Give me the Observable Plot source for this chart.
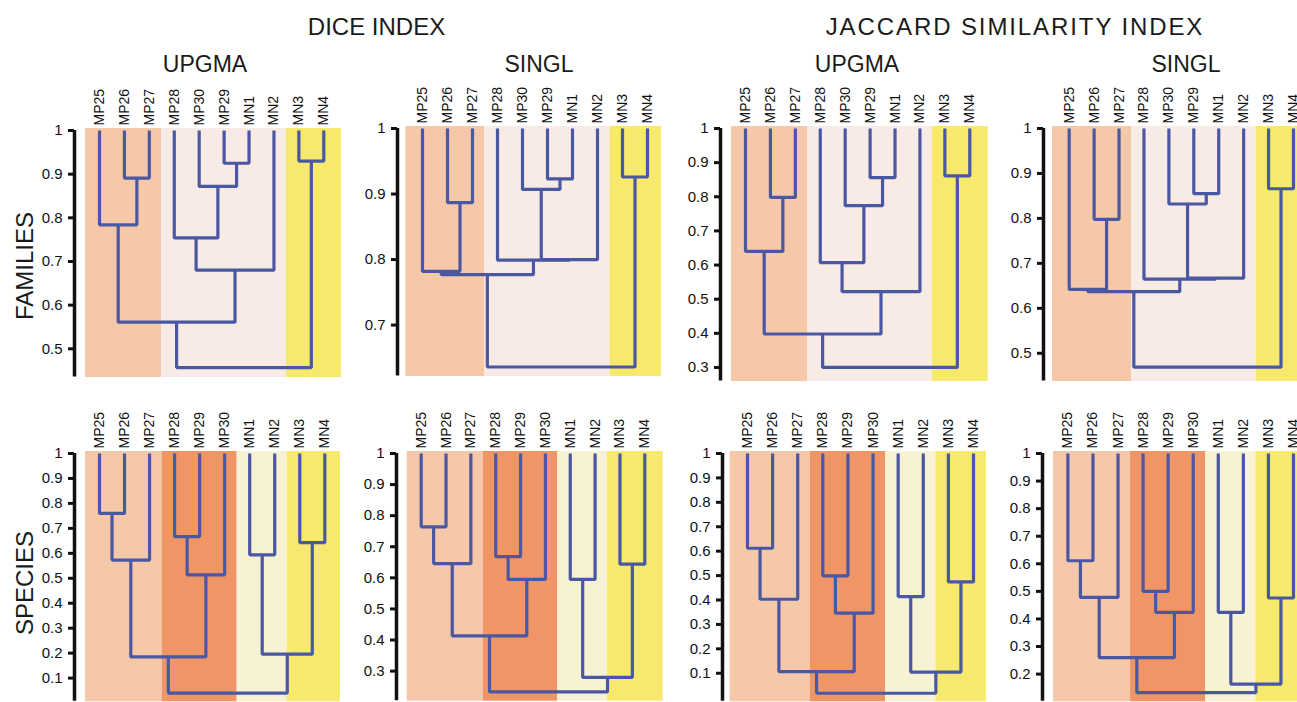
<!DOCTYPE html>
<html><head><meta charset="utf-8">
<script src="https://cdn.jsdelivr.net/npm/d3@7"></script>
<script src="https://cdn.jsdelivr.net/npm/@observablehq/plot@0.6"></script>
<style>
body{margin:0;background:#fff;font-family:"Liberation Sans",Arial,sans-serif;}
#root{position:relative;width:1297px;height:702px;overflow:hidden;background:#fff;}
.t{position:absolute;color:#1a1a1a;white-space:nowrap;transform:translate(-50%,-50%);font-size:23px;line-height:1;}
.r{transform:translate(-50%,-50%) rotate(-90deg);font-size:24px;}
.big{font-size:24px;}
.wide{font-size:24px;letter-spacing:1.9px;}
.panel{position:absolute;}
</style></head><body><div id="root"></div>
<script>
// ---------- data ----------
const leavesFamilies = ["MP25","MP26","MP27","MP28","MP30","MP29","MN1","MN2","MN3","MN4"];
const leavesSpecies  = ["MP25","MP26","MP27","MP28","MP29","MP30","MN1","MN2","MN3","MN4"];

// merges: [childA, childB, height]; numbers refer to earlier merges
const diceUpgmaFamilies = [
  ["MP26","MP27",0.891],["MP25",0,0.784],["MP29","MN1",0.925],["MP30",2,0.872],
  ["MP28",3,0.754],[4,"MN2",0.680],[1,5,0.561],["MN3","MN4",0.930],[6,7,0.457]];
const diceSinglFamilies = [
  ["MP26","MP27",0.887],["MP25",0,0.782],["MP29","MN1",0.923],["MP30",2,0.907],
  [3,"MN2",0.800],["MP28",4,0.799],[1,5,0.777],["MN3","MN4",0.926],[6,7,0.636]];
const jaccardUpgmaFamilies = [
  ["MP26","MP27",0.798],["MP25",0,0.640],["MP29","MN1",0.856],["MP30",2,0.774],
  ["MP28",3,0.607],[4,"MN2",0.522],[1,5,0.398],["MN3","MN4",0.861],[6,7,0.300]];
const jaccardSinglFamilies = [
  ["MP26","MP27",0.798],["MP25",0,0.642],["MP29","MN1",0.855],["MP30",2,0.832],
  [3,"MN2",0.667],["MP28",4,0.665],[1,5,0.637],["MN3","MN4",0.866],[6,7,0.469]];
const diceUpgmaSpecies = [
  ["MP25","MP26",0.760],[0,"MP27",0.573],["MP28","MP29",0.667],[2,"MP30",0.514],
  [1,3,0.185],["MN1","MN2",0.594],["MN3","MN4",0.643],[5,6,0.196],[4,7,0.040]];
const diceSinglSpecies = [
  ["MP25","MP26",0.764],[0,"MP27",0.646],["MP28","MP29",0.668],[2,"MP30",0.595],
  [1,3,0.413],["MN1","MN2",0.595],["MN3","MN4",0.644],[5,6,0.280],[4,7,0.233]];
const jaccardUpgmaSpecies = [
  ["MP25","MP26",0.612],[0,"MP27",0.403],["MP28","MP29",0.499],[2,"MP30",0.346],
  [1,3,0.107],["MN1","MN2",0.414],["MN3","MN4",0.474],[5,6,0.105],[4,7,0.018]];
const jaccardSinglSpecies = [
  ["MP25","MP26",0.611],[0,"MP27",0.478],["MP28","MP29",0.500],[2,"MP30",0.424],
  [1,3,0.260],["MN1","MN2",0.424],["MN3","MN4",0.476],[5,6,0.164],[4,7,0.133]];

const groupsFamilies = [["MP25","MP27","salmon"],["MP28","MN2","pink"],["MN3","MN4","yellow"]];
const groupsSpecies  = [["MP25","MP27","salmon"],["MP28","MP30","orange"],["MN1","MN2","cream"],["MN3","MN4","yellow"]];

const ticksDUF = [0.5,0.6,0.7,0.8,0.9,1];
const ticksDSF = [0.7,0.8,0.9,1];
const ticksJUF = [0.3,0.4,0.5,0.6,0.7,0.8,0.9,1];
const ticksJSF = [0.5,0.6,0.7,0.8,0.9,1];
const ticksDUS = [0.1,0.2,0.3,0.4,0.5,0.6,0.7,0.8,0.9,1];
const ticksDSS = [0.3,0.4,0.5,0.6,0.7,0.8,0.9,1];
const ticksJUS = [0.1,0.2,0.3,0.4,0.5,0.6,0.7,0.8,0.9,1];
const ticksJSS = [0.2,0.3,0.4,0.5,0.6,0.7,0.8,0.9,1];

const titles = ["DICE INDEX","JACCARD SIMILARITY INDEX"];
const methods = ["UPGMA","SINGL","UPGMA","SINGL"];
const rowLabels = ["FAMILIES","SPECIES"];

// ---------- styles / layout ----------
const tone = {salmon:"#f6c8aa", pink:"#f8ebe5", yellow:"#f7e96e", orange:"#ef9566", cream:"#f8f2d4"};
const LINE = "#4a58a4";

const panels = [
  {leaves:leavesFamilies, merges:diceUpgmaFamilies,   groups:groupsFamilies, ticks:ticksDUF, A:74,    L:85,    leaf0:99,    leaf9:323.3,  R:341,  y1:130,   yb:378,   ymin:0.432},
  {leaves:leavesFamilies, merges:diceSinglFamilies,   groups:groupsFamilies, ticks:ticksDSF, A:396.7, L:405,   leaf0:421.7, leaf9:646.7,  R:660.7,y1:127.7, yb:376.7, ymin:0.620},
  {leaves:leavesFamilies, merges:jaccardUpgmaFamilies,groups:groupsFamilies, ticks:ticksJUF, A:720,   L:731,   leaf0:745,   leaf9:969.3,  R:987.7,y1:127.7, yb:381.7, ymin:0.256},
  {leaves:leavesFamilies, merges:jaccardSinglFamilies,groups:groupsFamilies, ticks:ticksJSF, A:1043.3,L:1052.3,leaf0:1069,  leaf9:1293.3, R:1310, y1:127.7, yb:381.7, ymin:0.435},
  {leaves:leavesSpecies,  merges:diceUpgmaSpecies,    groups:groupsSpecies,  ticks:ticksDUS, A:74,    L:85,    leaf0:99,    leaf9:324.3,  R:340,  y1:452.7, yb:702,   ymin:0.001},
  {leaves:leavesSpecies,  merges:diceSinglSpecies,    groups:groupsSpecies,  ticks:ticksDSS, A:396,   L:406.7, leaf0:420.7, leaf9:644.3,  R:662.7,y1:453.3, yb:702,   ymin:0.200},
  {leaves:leavesSpecies,  merges:jaccardUpgmaSpecies, groups:groupsSpecies,  ticks:ticksJUS, A:721.7, L:729.3, leaf0:746.7, leaf9:972.7,  R:985.7,y1:452.7, yb:702,   ymin:-0.021},
  {leaves:leavesSpecies,  merges:jaccardSinglSpecies, groups:groupsSpecies,  ticks:ticksJSS, A:1042.3,L:1053.3,leaf0:1067.7,leaf9:1293.3, R:1310, y1:452.7, yb:702,   ymin:0.096}
];

function treeSegments(leaves, merges) {
  const leaf = new Map(leaves.map((n, i) => [n, {x: i, h: 1}]));
  const nodes = [];
  const get = c => typeof c === "number" ? nodes[c] : leaf.get(c);
  const pts = [];
  merges.forEach(([a, b, h], k) => {
    const A = get(a), B = get(b);
    pts.push({k, x: A.x, y: A.h}, {k, x: A.x, y: h}, {k, x: B.x, y: h}, {k, x: B.x, y: B.h});
    nodes.push({x: (A.x + B.x) / 2, h});
  });
  return pts;
}

const root = document.getElementById("root");
const mL = 60, mT = 52;

panels.forEach(p => {
  const step = (p.leaf9 - p.leaf0) / (p.leaves.length - 1);
  const x0 = (p.A - p.leaf0) / step, x1 = (p.R - p.leaf0) / step;
  const bgL = (p.L - p.leaf0) / step;
  const svgLeft = p.A - mL, svgTop = p.y1 - mT;
  const width = p.R - svgLeft, height = p.yb - svgTop;
  const idx = new Map(p.leaves.map((n, i) => [n, i]));
  const rects = p.groups.map(([a, b, t], gi) => ({
    x1: gi === 0 ? bgL : idx.get(a) - 0.5,
    x2: gi === p.groups.length - 1 ? x1 : idx.get(b) + 0.5,
    t
  }));
  const segs = treeSegments(p.leaves, p.merges);
  const chart = Plot.plot({
    width, height,
    marginLeft: mL, marginRight: 0, marginTop: mT, marginBottom: 0,
    x: {domain: [x0, x1], axis: null},
    y: {domain: [p.ymin, 1]},
    style: {fontFamily: '"Liberation Sans", Arial, sans-serif', color: "#111", background: "transparent", overflow: "visible"},
    marks: [
      Plot.rect(rects, {x1: "x1", x2: "x2", y1: () => p.ymin, y2: () => 1, fill: d => tone[d.t], insetTop: -2, insetBottom: 1}),
      Plot.line(segs, {x: "x", y: "y", z: "k", stroke: LINE, strokeWidth: 3.2, strokeLinejoin: "miter", strokeLinecap: "butt", curve: "linear"}),
      Plot.axisY(p.ticks, {label: null, tickSize: 6, tickPadding: 6, fontSize: 15, strokeWidth: 3, tickFormat: d3.format("~g")}),
      Plot.ruleX([x0], {y1: () => p.ymin, y2: () => 1, stroke: "#111", strokeWidth: 3.5, insetTop: -1.5}),
      Plot.text(p.leaves, {x: (d, i) => i, y: () => 1, text: d => d, rotate: -90, textAnchor: "start", dy: -5, fontSize: 14, fill: "#111"})
    ]
  });
  chart.classList.add("panel");
  chart.style.left = svgLeft + "px";
  chart.style.top = svgTop + "px";
  root.appendChild(chart);
});

function label(text, cx, cy, cls) {
  const d = document.createElement("div");
  d.className = "t" + (cls ? " " + cls : "");
  d.textContent = text;
  d.style.left = cx + "px";
  d.style.top = cy + "px";
  root.appendChild(d);
}
label(titles[0], 376.5, 27, "big");
label(titles[1], 1015, 27, "wide");
[205, 539, 857, 1186].forEach((cx, i) => label(methods[i], cx, 64));
label(rowLabels[0], 25, 266, "r");
label(rowLabels[1], 25, 583, "r");
</script></body></html>
